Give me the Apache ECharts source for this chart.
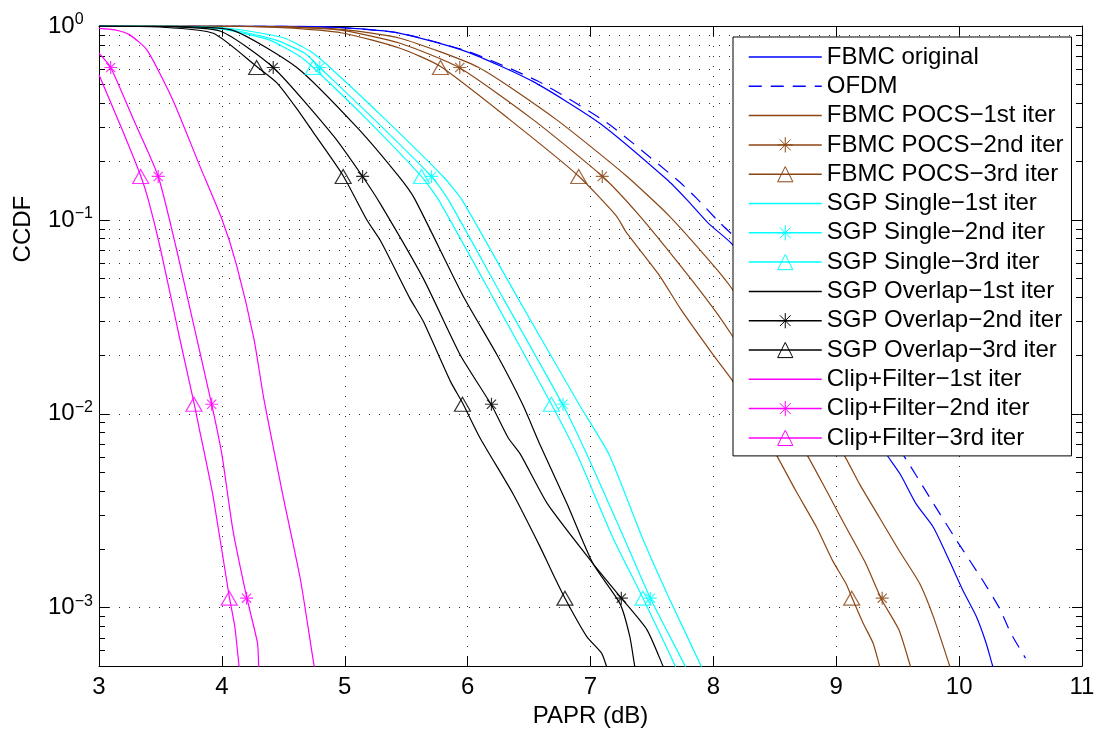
<!DOCTYPE html>
<html><head><meta charset="utf-8">
<script src="https://cdn.jsdelivr.net/npm/echarts@6/dist/echarts.min.js"></script>
<style>html,body{margin:0;padding:0;background:#fff}#c{width:1098px;height:733px}</style>
</head><body><div id="c"></div>
<script>
// ---------------- data (x = PAPR dB, y = CCDF) ----------------
const xTicks = [3, 4, 5, 6, 7, 8, 9, 10, 11];
const yMinor = [0.0006, 0.0007, 0.0008, 0.0009,
  0.002, 0.003, 0.004, 0.005, 0.006, 0.007, 0.008, 0.009,
  0.02, 0.03, 0.04, 0.05, 0.06, 0.07, 0.08, 0.09,
  0.2, 0.3, 0.4, 0.5, 0.6, 0.7, 0.8, 0.9];
const markerLevels = [0.611, 0.1675, 0.0112, 0.00112];

const fbmcOriginal = [[3.00,1.0],[4.49,0.998],[4.98,0.98],[5.45,0.917],[5.99,0.738],[6.53,0.518],[7.07,0.317],[7.62,0.162],[7.78,0.128],[7.96,0.096],[8.15,0.0753],[8.77,0.0262],[9.10,0.0127],[9.40,0.0063],[9.52,0.00489],[9.65,0.00343],[9.79,0.0026],[9.92,0.00175],[10.03,0.00123],[10.14,0.0009],[10.22,0.000656],[10.27,0.000508],[10.29,0.00047]];
const ofdm = [[3.00,1.0],[4.49,0.998],[4.98,0.98],[5.45,0.918],[6.00,0.74],[6.57,0.52],[7.13,0.318],[7.70,0.162],[7.86,0.13],[8.05,0.097],[8.23,0.0753],[8.86,0.026],[9.20,0.0125],[9.55,0.00607],[9.76,0.00371],[9.98,0.00222],[10.19,0.00139],[10.33,0.00099],[10.42,0.00074],[10.54,0.00055]];
const pocs1 = [[3.00,1.0],[3.99,0.999],[4.49,0.993],[4.98,0.96],[5.45,0.865],[6.09,0.611],[6.72,0.33],[7.29,0.169],[7.64,0.105],[8.00,0.0583],[8.15,0.0443],[8.60,0.0168],[9.06,0.00618],[9.19,0.00434],[9.35,0.00293],[9.51,0.00198],[9.68,0.00133],[9.79,0.0009],[9.92,0.000508],[9.94,0.00046]];
const pocs2 = [[3.00,1.0],[3.99,0.999],[4.49,0.99],[4.98,0.95],[5.45,0.815],[5.93,0.611],[6.53,0.33],[7.10,0.167],[7.40,0.105],[7.73,0.0583],[8.00,0.035],[8.15,0.0255],[8.51,0.0112],[8.76,0.00618],[8.92,0.00402],[9.08,0.0026],[9.24,0.00169],[9.37,0.0011],[9.51,0.000769],[9.60,0.000508],[9.62,0.00046]];
const pocs3 = [[3.00,1.0],[3.99,0.998],[4.49,0.98],[4.98,0.92],[5.45,0.768],[5.78,0.618],[6.34,0.33],[6.90,0.169],[7.21,0.105],[7.29,0.0865],[7.56,0.0518],[7.73,0.035],[8.00,0.0201],[8.15,0.015],[8.27,0.0112],[8.51,0.00618],[8.67,0.00402],[8.84,0.0026],[8.97,0.00175],[9.08,0.00133],[9.13,0.00112],[9.22,0.00083],[9.30,0.000656],[9.35,0.000508],[9.37,0.00046]];
const single1 = [[3.00,1.0],[3.70,0.995],[4.10,0.965],[4.50,0.87],[4.72,0.74],[4.88,0.611],[5.33,0.33],[5.80,0.1675],[5.95,0.128],[6.41,0.0394],[6.91,0.0111],[7.15,0.00618],[7.42,0.00231],[7.64,0.00112],[7.90,0.0005],[7.91,0.00047]];
const single2 = [[3.00,1.0],[3.64,0.995],[4.04,0.965],[4.43,0.85],[4.68,0.72],[4.797,0.611],[5.24,0.33],[5.706,0.1675],[5.84,0.128],[6.29,0.0394],[6.776,0.0111],[6.97,0.00618],[7.27,0.00231],[7.487,0.00112],[7.77,0.0005],[7.78,0.00047]];
const single3 = [[3.00,1.0],[3.59,0.995],[3.99,0.965],[4.38,0.85],[4.63,0.70],[4.743,0.611],[5.18,0.33],[5.624,0.1675],[5.76,0.128],[6.21,0.0394],[6.682,0.0112],[6.89,0.00618],[7.18,0.00231],[7.427,0.00112],[7.69,0.0005],[7.70,0.00047]];
const overlap1 = [[3.00,1.0],[3.60,0.995],[4.09,0.95],[4.61,0.611],[5.10,0.30],[5.44,0.1675],[5.57,0.128],[5.96,0.0409],[6.24,0.0201],[6.45,0.0111],[6.59,0.0069],[6.81,0.00343],[7.02,0.00169],[7.24,0.00105],[7.32,0.00071],[7.36,0.0005],[7.37,0.00048]];
const overlap2 = [[3.00,1.0],[3.50,0.995],[3.99,0.94],[4.418,0.611],[4.91,0.2705],[5.145,0.1675],[5.29,0.121],[5.64,0.0498],[5.94,0.0201],[6.194,0.0111],[6.33,0.00753],[6.43,0.00618],[6.65,0.00343],[7.02,0.00169],[7.251,0.00112],[7.46,0.000769],[7.59,0.0005],[7.60,0.00048]];
const overlap3 = [[3.00,1.0],[3.49,0.988],[3.93,0.917],[4.283,0.618],[4.45,0.508],[4.63,0.36],[4.74,0.285],[4.987,0.169],[5.18,0.0999],[5.29,0.0783],[5.53,0.0394],[5.64,0.0299],[5.86,0.0147],[5.958,0.0114],[6.10,0.00753],[6.37,0.00386],[6.59,0.00206],[6.68,0.00156],[6.792,0.00112],[6.97,0.00071],[7.09,0.000583],[7.13,0.0005],[7.14,0.00048]];
const clip1 = [[3.00,0.973],[3.13,0.955],[3.25,0.90],[3.39,0.753],[3.60,0.417],[3.82,0.19],[4.00,0.101],[4.12,0.0583],[4.26,0.0245],[4.34,0.0121],[4.43,0.00618],[4.50,0.00371],[4.64,0.00139],[4.75,0.000504],[4.76,0.00048]];
const clip2 = [[3.00,0.724],[3.095,0.611],[3.28,0.33],[3.482,0.1675],[3.63,0.071],[3.74,0.035],[3.917,0.0112],[4.00,0.00618],[4.09,0.00251],[4.201,0.00114],[4.29,0.000656],[4.30,0.0005],[4.305,0.00048]];
const clip3 = [[3.00,0.56],[3.20,0.281],[3.339,0.169],[3.40,0.128],[3.50,0.071],[3.645,0.0265],[3.773,0.0114],[3.82,0.00815],[3.86,0.00618],[3.93,0.00371],[4.06,0.00114],[4.105,0.0008],[4.14,0.0005],[4.145,0.00048]];

// marker x positions at markerLevels (null = none)
const pocs2Marks = [5.936, 7.096, 8.51, 9.374];
const pocs3Marks = [5.779, 6.904, 8.27, 9.126];
const single2Marks = [4.797, 5.706, 6.776, 7.487];
const single3Marks = [4.743, 5.624, 6.682, 7.427];
const overlap2Marks = [4.418, 5.145, 6.194, 7.251];
const overlap3Marks = [4.283, 4.987, 5.958, 6.792];
const clip2Marks = [3.095, 3.482, 3.917, 4.201];
const clip3Marks = [null, 3.339, 3.773, 4.06];

// ---------------- styling ----------------
const FONT = "'Liberation Sans', Arial, Helvetica, sans-serif";
const BLUE = '#0000ff', BROWN = '#8b4513', CYAN = '#00ffff', BLACK = '#000000', MAGENTA = '#ff00ff';
const STAR = 'path://M6 0V12M0 6H12M1.76 1.76L10.24 10.24M1.76 10.24L10.24 1.76';
const GRID_LINE = { color: '#333', width: 1, type: [1, 9] };

const defs = [
  { name: 'FBMC original', data: fbmcOriginal, color: BLUE },
  { name: 'OFDM', data: ofdm, color: BLUE, dash: [13, 9] },
  { name: 'FBMC POCS\u22121st iter', data: pocs1, color: BROWN },
  { name: 'FBMC POCS\u22122nd iter', data: pocs2, color: BROWN, sym: STAR, marks: pocs2Marks },
  { name: 'FBMC POCS\u22123rd iter', data: pocs3, color: BROWN, sym: 'triangle', marks: pocs3Marks },
  { name: 'SGP Single\u22121st iter', data: single1, color: CYAN },
  { name: 'SGP Single\u22122nd iter', data: single2, color: CYAN, sym: STAR, marks: single2Marks },
  { name: 'SGP Single\u22123rd iter', data: single3, color: CYAN, sym: 'triangle', marks: single3Marks },
  { name: 'SGP Overlap\u22121st iter', data: overlap1, color: BLACK },
  { name: 'SGP Overlap\u22122nd iter', data: overlap2, color: BLACK, sym: STAR, marks: overlap2Marks },
  { name: 'SGP Overlap\u22123rd iter', data: overlap3, color: BLACK, sym: 'triangle', marks: overlap3Marks },
  { name: 'Clip+Filter\u22121st iter', data: clip1, color: MAGENTA },
  { name: 'Clip+Filter\u22122nd iter', data: clip2, color: MAGENTA, sym: STAR, marks: clip2Marks },
  { name: 'Clip+Filter\u22123rd iter', data: clip3, color: MAGENTA, sym: 'triangle', marks: clip3Marks }
];

const series = [];
// minor grid lines and minor ticks (log decades 2..9)
series.push({
  type: 'line', name: '_minorGrid', data: [[3, 1]], symbol: 'none', silent: true, animation: false, z: 1,
  lineStyle: { width: 0 },
  markLine: {
    silent: true, animation: false, z: 1, symbol: ['none', 'none'], label: { show: false },
    emphasis: { disabled: true }, lineStyle: GRID_LINE,
    data: yMinor.map(v => ({ yAxis: v }))
  }
});
series.push({
  type: 'line', name: '_minorTicks', data: [[3, 1]], symbol: 'none', silent: true, animation: false, z: 1,
  lineStyle: { width: 0 },
  markLine: {
    silent: true, animation: false, z: 1, symbol: ['none', 'none'], label: { show: false },
    emphasis: { disabled: true }, lineStyle: { color: '#000', width: 1, type: 'solid' },
    data: yMinor.flatMap(v => [
      [{ coord: [3, v] }, { coord: [3.049, v] }],
      [{ coord: [10.951, v] }, { coord: [11, v] }]
    ])
  }
});
defs.forEach(d => {
  series.push({
    type: 'line', name: d.name, data: d.data,
    symbol: d.sym || 'none', showSymbol: false, symbolSize: 12,
    smooth: 0.2,
    lineStyle: { color: d.color, width: 1.2, type: d.dash || 'solid' },
    itemStyle: { color: 'none', borderColor: d.sym ? d.color : 'transparent', borderWidth: 1 },
    emphasis: { disabled: true }, silent: true, animation: false, z: 2, clip: true
  });
});
defs.forEach(d => {
  if (!d.marks) return;
  const pts = d.marks.map((x, i) => x == null ? null : [x, markerLevels[i]]).filter(p => p);
  series.push({
    type: 'scatter', name: d.name + ' (markers)', data: pts,
    symbol: d.sym, symbolSize: d.sym === 'triangle' ? [16, 14] : 13,
    itemStyle: { color: 'none', borderColor: d.color, borderWidth: 1.2 },
    emphasis: { disabled: true }, silent: true, animation: false, z: 3
  });
});

function yLabel(v) {
  const e = Math.log10(v);
  const r = Math.round(e);
  if (Math.abs(e - r) > 1e-6) return '';
  return '{b|10}{s|' + (r < 0 ? '\u2212' + (-r) : String(r)) + '}';
}

const chart = echarts.init(document.getElementById('c'), null, { renderer: 'canvas' });
chart.setOption({
  backgroundColor: '#fff',
  animation: false,
  textStyle: { fontFamily: FONT },
  grid: { left: 99, right: 16, top: 26, bottom: 64, containLabel: false },
  xAxis: [{
    type: 'value', min: xTicks[0], max: xTicks[xTicks.length - 1], interval: 1,
    name: 'PAPR (dB)', nameLocation: 'middle', nameGap: 37,
    nameTextStyle: { fontSize: 24, color: '#000', fontFamily: FONT },
    axisLine: { show: true, onZero: false, lineStyle: { color: '#000', width: 1 } },
    axisTick: { show: true, inside: true, length: 10, lineStyle: { color: '#000' } },
    axisLabel: { fontSize: 24, color: '#000', margin: 9, fontFamily: FONT },
    splitLine: { show: true, lineStyle: GRID_LINE }
  }, {
    type: 'value', position: 'top', min: xTicks[0], max: xTicks[xTicks.length - 1], interval: 1,
    axisLine: { show: true, onZero: false, lineStyle: { color: '#000', width: 1 } },
    axisTick: { show: true, inside: true, length: 10, lineStyle: { color: '#000' } },
    axisLabel: { show: false }, splitLine: { show: false }
  }],
  yAxis: [{
    type: 'log', logBase: 10, min: 0.0005, max: 1,
    name: 'CCDF', nameLocation: 'middle', nameGap: 64, nameRotate: 90,
    nameTextStyle: { fontSize: 24, color: '#000', fontFamily: FONT, padding: [0, 0, 0, 234] },
    axisLine: { show: true, onZero: false, lineStyle: { color: '#000', width: 1 } },
    axisTick: { show: true, inside: true, length: 10, lineStyle: { color: '#000' } },
    minorTick: { show: false },
    axisLabel: {
      align: 'left', margin: 51, color: '#000', formatter: yLabel,
      rich: {
        b: { fontSize: 24, lineHeight: 24, color: '#000', fontFamily: FONT },
        s: { fontSize: 16, lineHeight: 16, color: '#000', fontFamily: FONT, padding: [0, 0, 12, 0] }
      }
    },
    splitLine: { show: true, lineStyle: GRID_LINE }
  }, {
    type: 'log', logBase: 10, min: 0.0005, max: 1, position: 'right',
    axisLine: { show: true, onZero: false, lineStyle: { color: '#000', width: 1 } },
    axisTick: { show: true, inside: true, length: 10, lineStyle: { color: '#000' } },
    axisLabel: { show: false }, splitLine: { show: false }
  }],
  legend: {
    orient: 'vertical', left: 733, top: 37,
    padding: [8, 8, 6, 15],
    itemWidth: 73, itemHeight: 19, itemGap: 5.3,
    backgroundColor: '#fff', borderColor: '#000', borderWidth: 1, borderRadius: 0,
    textStyle: { fontSize: 24, color: '#000', fontFamily: FONT },
    itemStyle: { borderWidth: 1 },
    lineStyle: { width: 1.5 },
    selectedMode: false,
    data: defs.map(d => d.name),
    z: 10
  },
  series: series
});
</script>
</body></html>
